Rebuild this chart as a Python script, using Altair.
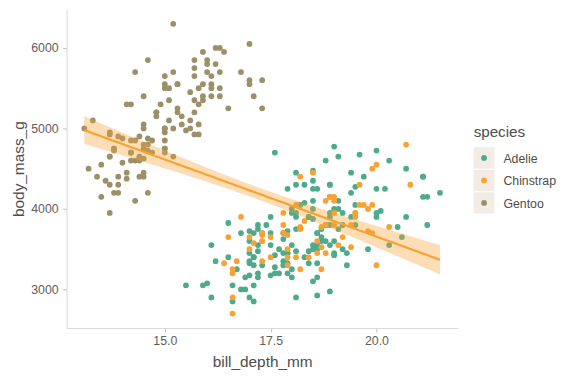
import altair as alt
import numpy as np
import pandas as pd

# ---------------- data ----------------
species_order = ["Adelie", "Chinstrap", "Gentoo"]
palette = ["#4DAA8B", "#F8A233", "#9C9069"]

adelie_depth = [
    18.7, 17.4, 18.0, 19.3, 20.6, 17.8, 19.6, 18.1, 20.2, 17.1, 17.3, 17.6, 21.2, 21.1, 17.8, 19.0, 20.7, 18.4, 21.5,
    18.3, 18.7, 19.2, 18.1, 17.2, 18.9, 18.6, 17.9, 18.6, 18.9,
    16.7, 18.1, 17.8, 18.9, 17.0, 21.1, 20.0, 18.5, 19.3, 19.1, 18.0, 18.4, 18.5, 19.7, 16.9, 18.8, 19.0, 18.9, 17.9, 21.2,
    17.7, 18.9, 17.9, 19.5, 18.1, 18.6, 17.5, 18.8, 16.6, 19.1, 16.9, 21.1, 17.0, 18.2, 17.1, 18.0, 16.2, 19.1,
    16.6, 19.4, 19.0, 18.4, 17.2, 18.9, 17.5, 18.5, 16.8, 19.4, 16.1, 19.1, 17.2, 17.6, 18.8, 19.4,
    17.8, 20.3, 19.5, 18.6, 19.2, 18.8, 18.0, 18.1, 17.1, 18.1, 17.3, 18.9, 18.6, 18.5, 16.1, 18.5,
    17.9, 20.0, 16.0, 20.0, 18.6, 18.9, 17.2, 20.0, 17.0, 19.0, 16.5, 20.3, 17.7, 19.5, 20.7, 18.3,
    17.0, 20.5, 17.0, 18.6, 17.2, 19.8, 17.0, 18.5, 15.9, 19.0, 17.6, 18.3, 17.1, 18.0, 17.9, 19.2,
    18.5, 18.5, 17.6, 17.5, 17.5, 20.1, 16.5, 17.9, 17.1, 17.2, 15.5, 17.0, 16.8, 18.7, 18.6, 18.4, 17.8, 18.1, 17.1, 18.5,
]
adelie_mass = [
    3750, 3800, 3250, 3450, 3650, 3625, 4675, 3475, 4250, 3300, 3700, 3200, 3800, 4400, 3700, 3450, 4500, 3325, 4200,
    3400, 3600, 3800, 3950, 3800, 3800, 3550, 3200, 3150, 3950,
    3250, 3900, 3300, 3900, 3325, 4150, 3950, 3550, 3300, 4650, 3150, 3900, 3100, 4400, 3000, 4600, 3425, 2975, 3450, 4150,
    3500, 4300, 3450, 4050, 2900, 3700, 3550, 3800, 2850, 3750, 3150, 4400, 3600, 4050, 2850, 3950, 3350, 4100,
    3050, 4450, 3600, 3900, 3550, 4150, 3700, 4250, 3700, 3900, 3550, 4000, 3200, 4700, 3800, 4200,
    3350, 3550, 3800, 3500, 3950, 3600, 3550, 4300, 3400, 4450, 3300, 4300, 3700, 4350, 2900, 4100,
    3725, 4725, 3075, 4250, 2925, 3550, 3750, 3900, 3175, 4775, 3825, 4600, 3200, 4275, 3900, 4075,
    2900, 3775, 3350, 3325, 3150, 3500, 3450, 3875, 3050, 4000, 3275, 4300, 3050, 4000, 3325, 3500,
    3500, 4475, 3425, 3900, 3175, 3975, 3400, 4250, 3400, 3475, 3050, 3725, 3000, 3650, 4250, 3475, 3450, 3750, 3700, 4000,
]
chinstrap_depth = [
    17.9, 19.5, 19.2, 18.7, 19.8, 17.8, 18.2, 18.2, 18.9, 19.9, 17.8, 20.3, 17.3, 18.1, 17.1, 19.6, 20.0, 17.8, 18.6, 18.2,
    17.3, 17.5, 16.6, 19.4, 17.9, 19.0, 18.4, 19.0, 17.8, 20.0, 16.6, 20.8, 16.7, 18.8, 18.6, 16.8, 18.3, 20.7, 16.6, 19.9,
    19.5, 17.5, 19.1, 17.0, 17.9, 18.5, 17.9, 19.6, 18.7, 17.3, 16.4, 19.0, 17.3, 19.7, 17.3, 18.8, 16.6, 19.9, 18.8, 19.4,
    19.5, 16.5, 17.0, 19.8, 18.1, 18.2, 19.0, 18.7,
]
chinstrap_mass = [
    3500, 3900, 3650, 3525, 3725, 3950, 3250, 3750, 4150, 3700, 3800, 3775, 3700, 4050, 3575, 4050, 3300, 3700, 3450, 4400,
    3600, 3400, 2900, 3800, 3300, 4150, 3400, 3800, 3700, 4550, 3200, 4300, 3350, 4100, 3600, 3900, 3850, 4800, 2700, 4500,
    3950, 3650, 3550, 3500, 3675, 4450, 3400, 4300, 3250, 3675, 3325, 3950, 3600, 4050, 3350, 3450, 3250, 4050, 3800, 3525,
    3950, 3650, 3650, 4000, 3400, 3775, 4100, 3775,
]
gentoo_depth = [
    13.2, 16.3, 14.1, 15.2, 14.5, 13.5, 14.6, 15.3, 13.4, 15.4, 13.7, 16.1, 13.7, 14.6, 14.6, 15.7, 13.5, 15.2, 14.5, 15.1,
    14.3, 14.5, 14.5, 15.8, 13.1, 15.1, 14.3, 15.0, 14.3, 15.3, 15.3, 14.2, 14.5, 17.0, 14.8, 16.3, 13.7, 17.3, 13.6, 15.7,
    13.7, 16.0, 13.7, 15.0, 15.9, 13.9, 13.9, 15.9, 13.3, 15.8, 14.2, 14.1, 14.4, 15.0, 14.4, 15.4, 13.9, 15.0, 14.5, 15.3,
    13.8, 14.9, 13.9, 15.7, 14.2, 16.8, 14.4, 16.2, 14.2, 15.0, 15.0, 15.6, 15.6, 14.8, 15.0, 16.0, 14.2, 16.3, 13.8, 16.4,
    14.5, 15.6, 14.6, 15.9, 13.8, 17.3, 14.4, 14.2, 14.0, 17.0, 15.0, 17.1, 14.5, 16.1, 14.7, 15.7, 15.8, 14.6, 14.4, 16.5,
    15.0, 17.0, 15.5, 15.0, 13.8, 16.1, 14.7, 15.8, 14.0, 15.1, 15.2, 15.9, 15.2, 16.3, 14.1, 16.0, 15.7, 16.2, 13.7,
    14.3, 15.7, 14.8, 16.1,
]
gentoo_mass = [
    4500, 5700, 4450, 5700, 5400, 4550, 4800, 5200, 4400, 5150, 4650, 5550, 4650, 5850, 4200, 5850, 4150, 6300, 4800, 5350,
    5700, 5000, 4400, 5050, 5000, 5100, 4100, 5650, 4600, 5550, 5250, 4700, 5050, 6050, 5150, 5400, 4950, 5250, 4350, 5350,
    3950, 5700, 4300, 4750, 5550, 4900, 4200, 5400, 5100, 5300, 4850, 5300, 4400, 5000, 4900, 5050, 4300, 5000, 4450, 5550,
    4200, 5300, 4400, 5650, 4700, 5700, 4650, 5800, 4700, 5550, 4750, 5000, 5100, 5200, 4700, 5800, 4600, 6000, 4750, 5950,
    4625, 5450, 4725, 5350, 4750, 5600, 4600, 5300, 4875, 5550, 4950, 5400, 4750, 5650, 4850, 5200, 4925, 4875, 4625, 5250,
    4850, 5600, 4975, 5500, 4725, 5500, 4700, 5500, 4575, 5500, 5000, 5950, 4650, 5500, 4375, 5850, 4925, 6000, 4925,
    4850, 5750, 5200, 5400,
]

x_ticks = [15.0, 17.5, 20.0]
y_ticks = [3000, 4000, 5000, 6000]

# ---------------- tables ----------------
frames = []
for sp, d, m in [("Adelie", adelie_depth, adelie_mass),
                 ("Chinstrap", chinstrap_depth, chinstrap_mass),
                 ("Gentoo", gentoo_depth, gentoo_mass)]:
    frames.append(pd.DataFrame({"species": sp, "bill_depth_mm": d, "body_mass_g": m}))
df = pd.concat(frames, ignore_index=True)

# overall linear fit with 95% confidence band (like geom_smooth(method = "lm"))
xv = df["bill_depth_mm"].to_numpy(float)
yv = df["body_mass_g"].to_numpy(float)
n = len(xv)
slope, intercept = np.polyfit(xv, yv, 1)
resid = yv - (intercept + slope * xv)
s = np.sqrt((resid ** 2).sum() / (n - 2))
xbar = xv.mean()
sxx = ((xv - xbar) ** 2).sum()
t_crit = 1.967
xs = np.linspace(xv.min(), xv.max(), 80)
fit = intercept + slope * xs
se = s * np.sqrt(1.0 / n + (xs - xbar) ** 2 / sxx)
band = pd.DataFrame({"bill_depth_mm": xs, "body_mass_g": fit,
                     "lo": fit - t_crit * se, "hi": fit + t_crit * se})

# ggplot-style 5% expansion
xr = xv.max() - xv.min()
yr = yv.max() - yv.min()
x_dom = [xv.min() - 0.05 * xr, xv.max() + 0.05 * xr]
y_dom = [yv.min() - 0.05 * yr, yv.max() + 0.05 * yr]

FONT = "Liberation Sans"
PLOT_W, PLOT_H = 394, 321
xscale = alt.Scale(domain=x_dom, nice=False, zero=False)
yscale = alt.Scale(domain=y_dom, nice=False, zero=False)
color_scale = alt.Scale(domain=species_order, range=palette)

X = alt.X("bill_depth_mm:Q", scale=xscale, title="bill_depth_mm",
          axis=alt.Axis(values=x_ticks, format=".1f"))

points = alt.Chart(df).mark_circle(size=34, opacity=1).encode(
    x=X,
    y=alt.Y("body_mass_g:Q", scale=yscale, title="body_mass_g",
            axis=alt.Axis(values=y_ticks, format="d")),
    color=alt.Color("species:N", scale=color_scale, legend=None),
)
ribbon = alt.Chart(band).mark_area(color="#F8A233", opacity=0.36).encode(
    x=X,
    y=alt.Y("lo:Q", scale=yscale, title="body_mass_g"),
    y2="hi:Q",
)
line = alt.Chart(band).mark_line(color="#F8A233", strokeWidth=2.2).encode(
    x=X,
    y=alt.Y("body_mass_g:Q", scale=yscale, title="body_mass_g"),
)
main = alt.layer(points, ribbon, line).properties(width=PLOT_W, height=PLOT_H)

# ---------------- legend panel (ggplot-style keys, vertically centred) ----------------
legend_rows = ["species"] + species_order
leg_df = pd.DataFrame({"row": legend_rows, "label": legend_rows})
KEY_STEP = 22.7
block = KEY_STEP * (len(legend_rows) - 0.05)
block_top = (PLOT_H - block) / 2 + 0.5
yleg = alt.Y("row:N", axis=None,
             scale=alt.Scale(domain=legend_rows, range=[block_top, block_top + block],
                             paddingInner=0.05, paddingOuter=0))
base = alt.Chart(leg_df)
keys_only = "datum.row != 'species'"
key_bg = base.transform_filter(keys_only).mark_rect(color="#F2ECE5").encode(y=yleg)
key_dot = base.transform_filter(keys_only).mark_circle(size=34, opacity=1).encode(
    y=yleg, color=alt.Color("row:N", scale=color_scale, legend=None))
key_lab = base.transform_filter(keys_only).mark_text(
    align="left", baseline="middle", dx=19.5, dy=1, font=FONT, fontSize=12.4, color="#4D4D4D"
).encode(y=yleg, text="label:N")
leg_title = base.transform_filter("datum.row == 'species'").mark_text(
    align="left", baseline="middle", dx=-10.5, dy=-3, font=FONT, fontSize=15.3, color="#4D4D4D"
).encode(y=yleg, text="label:N")
legend = alt.layer(key_bg, key_dot, key_lab, leg_title).properties(width=21, height=PLOT_H)

chart = (
    alt.hconcat(main, legend, spacing=16)
    .resolve_scale(color="independent")
    .properties(padding={"left": 3, "top": 0, "right": 5, "bottom": 5})
    .configure_view(stroke=None)
    .configure_axis(
        grid=False,
        domainColor="#D9D9D9", domainWidth=1.1,
        tickColor="#C4C4C4", tickSize=4, tickWidth=1.1,
        labelFont=FONT, labelFontSize=12.4, labelColor="#5C5C5C",
        titleFont=FONT, titleFontSize=15.5, titleColor="#4D4D4D", titleFontWeight="normal",
    )
    .configure_axisX(labelPadding=3, titlePadding=7)
    .configure_axisY(labelPadding=4.5, titlePadding=4)
)

chart.save("out.html", embed_options={"renderer": "svg", "actions": False})
